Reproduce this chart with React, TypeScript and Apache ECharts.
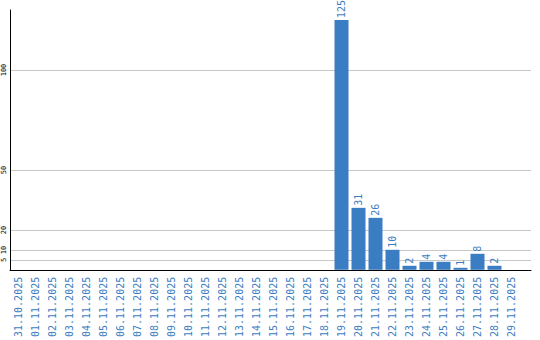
import React, { useEffect, useRef } from "react";
import * as echarts from "echarts";

const categories = [
  "31.10.2025", "01.11.2025", "02.11.2025", "03.11.2025", "04.11.2025", "05.11.2025",
  "06.11.2025", "07.11.2025", "08.11.2025", "09.11.2025", "10.11.2025", "11.11.2025",
  "12.11.2025", "13.11.2025", "14.11.2025", "15.11.2025", "16.11.2025", "17.11.2025",
  "18.11.2025", "19.11.2025", "20.11.2025", "21.11.2025", "22.11.2025", "23.11.2025",
  "24.11.2025", "25.11.2025", "26.11.2025", "27.11.2025", "28.11.2025", "29.11.2025",
];
const values = [
  0, 0, 0, 0, 0, 0, 0, 0, 0, 0, 0, 0, 0, 0, 0, 0, 0, 0, 0,
  125, 31, 26, 10, 2, 4, 4, 1, 8, 2, 0,
];
const yTicks = [5, 10, 20, 50, 100];

const BLUE = "#3b7dc2";

export default function App() {
  const ref = useRef<HTMLDivElement>(null);
  useEffect(() => {
    if (!ref.current) return;
    const chart = echarts.init(ref.current, undefined, { renderer: "svg" });
    chart.setOption({
      animation: false,
      grid: [
        { left: 10, width: 510, top: 10, height: 260 },
        { left: 10, right: 9, top: 10, height: 260 },
      ],
      xAxis: [
        {
          type: "category",
          gridIndex: 0,
          data: categories,
          axisLine: { show: false },
          axisTick: { show: false },
          axisLabel: {
            rotate: 90,
            margin: 7,
            interval: 0,
            color: BLUE,
            fontFamily: "DejaVu Sans Mono",
            fontSize: 10,
          },
        },
        {
          type: "value",
          gridIndex: 1,
          min: 0,
          max: 1,
          axisLine: { show: true, onZero: false, lineStyle: { color: "#000", width: 1 } },
          axisTick: { show: false },
          axisLabel: { show: false },
          splitLine: { show: false },
        },
      ],
      yAxis: [
        {
          type: "value",
          gridIndex: 0,
          min: 0,
          max: 130,
          show: false,
          splitLine: { show: false },
        },
        {
          type: "value",
          gridIndex: 1,
          min: 0,
          max: 130,
          axisLine: { show: true, lineStyle: { color: "#000", width: 1 } },
          axisTick: { show: false, customValues: yTicks },
          axisLabel: {
            customValues: yTicks,
            rotate: 90,
            margin: 3,
            color: "#000",
            fontFamily: "DejaVu Sans Mono",
            fontSize: 7,
          },
          splitLine: { show: true, lineStyle: { color: "#c8c8c8", width: 1 } },
        },
      ],
      series: [
        {
          type: "bar",
          xAxisIndex: 0,
          yAxisIndex: 0,
          data: values,
          barWidth: 14,
          itemStyle: { color: BLUE },
          label: {
            show: true,
            position: "top",
            rotate: 90,
            align: "left",
            verticalAlign: "middle",
            distance: 2,
            color: BLUE,
            fontFamily: "DejaVu Sans Mono",
            fontSize: 10,
            formatter: (p: any) => (p.value ? String(p.value) : ""),
          },
        },
      ],
    });
    return () => chart.dispose();
  }, []);
  return <div ref={ref} style={{ width: 540, height: 340, position: "absolute", left: 0, top: 0 }} />;
}
